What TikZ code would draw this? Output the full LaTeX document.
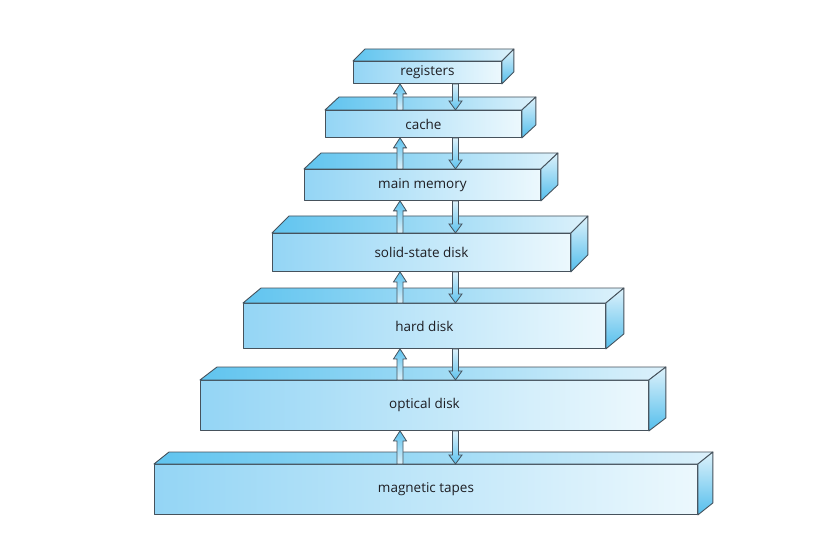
\documentclass[tikz,border=0pt]{standalone}
\usepackage{fontspec}
\setmainfont{Open Sans}
\usetikzlibrary{calc}
\definecolor{edge}{RGB}{70,82,92}
\definecolor{frontL}{RGB}{148,213,245}
\definecolor{frontR}{RGB}{236,248,253}
\definecolor{topL}{RGB}{96,196,239}
\definecolor{topR}{RGB}{220,241,251}
\definecolor{sideT}{RGB}{222,242,251}
\definecolor{sideB}{RGB}{84,190,236}
\definecolor{arrHead}{RGB}{92,194,238}
\definecolor{arrTail}{RGB}{222,242,251}
\definecolor{txt}{RGB}{30,30,35}
\tikzset{
  face/.style={draw=edge, line width=0.9pt, line join=round},
  frontface/.style={face, left color=frontL, right color=frontR, rectangle,
    anchor=north west, inner sep=0pt, text=txt, font=\fontsize{13.5}{15}\selectfont},
  topface/.style={face, left color=topL, right color=topR},
  sideface/.style={face, top color=sideT, bottom color=sideB},
  arrowbody/.style={draw=edge, line width=0.8pt, line join=miter}
}
% name, x1, x2, ytop, ybot, dx, dy, label
\newcommand\tierbox[8]{%
  \node[frontface, minimum width={#3pt-#2pt}, minimum height={#5pt-#4pt}] (#1) at (#2,#4) {#8};
  \draw[topface] (#1.north west) -- ++(#6,-#7) -- ($(#1.north east)+(#6,-#7)$) -- (#1.north east) -- cycle;
  \draw[sideface] (#1.north east) -- ++(#6,-#7) -- ($(#1.south east)+(#6,-#7)$) -- (#1.south east) -- cycle;
}
% lower, upper
\newcommand\uparr[2]{%
  \draw[arrowbody, top color=arrHead, bottom color=arrTail]
    let \p1=(ux |- #1.north), \p2=(ux |- #2.south) in
    (\x1-3pt,\y1) -- (\x1-3pt,\y2-10pt) -- (\x1-6.5pt,\y2-10pt) -- (\x1,\y2)
    -- (\x1+6.5pt,\y2-10pt) -- (\x1+3pt,\y2-10pt) -- (\x1+3pt,\y1) -- cycle;
}
\newcommand\downarr[2]{%
  \draw[arrowbody, bottom color=arrHead, top color=arrTail]
    let \p1=(dx |- #1.north), \p2=(dx |- #2.south) in
    (\x1-3pt,\y2) -- (\x1-3pt,\y1+9pt) -- (\x1-6.5pt,\y1+9pt) -- (\x1,\y1)
    -- (\x1+6.5pt,\y1+9pt) -- (\x1+3pt,\y1+9pt) -- (\x1+3pt,\y2) -- cycle;
}
\begin{document}
\begin{tikzpicture}[x=1pt,y=-1pt]
  \fill[white] (0,0) rectangle (822,540);
  \useasboundingbox (0,0) rectangle (822,540);
  \coordinate (ux) at (400,0);
  \coordinate (dx) at (455.5,0);
  \tierbox{reg}{353}{501}{61}{83}{12}{12}{registers}
  \tierbox{cache}{325}{521}{110}{137}{14}{13}{cache}
  \tierbox{mem}{304}{540}{169}{200}{17}{16}{main memory}
  \tierbox{ssd}{272}{570}{233}{271}{17}{17}{solid-state disk}
  \tierbox{hdd}{243}{605}{303}{348}{18}{15}{hard disk}
  \tierbox{opt}{200}{648}{380}{430}{17}{13}{optical disk}
  \tierbox{tape}{154}{697}{464}{514}{15}{12}{magnetic tapes}
  \uparr{cache}{reg}   \downarr{cache}{reg}
  \uparr{mem}{cache}   \downarr{mem}{cache}
  \uparr{ssd}{mem}     \downarr{ssd}{mem}
  \uparr{hdd}{ssd}     \downarr{hdd}{ssd}
  \uparr{opt}{hdd}     \downarr{opt}{hdd}
  \uparr{tape}{opt}    \downarr{tape}{opt}
\end{tikzpicture}
\end{document}
